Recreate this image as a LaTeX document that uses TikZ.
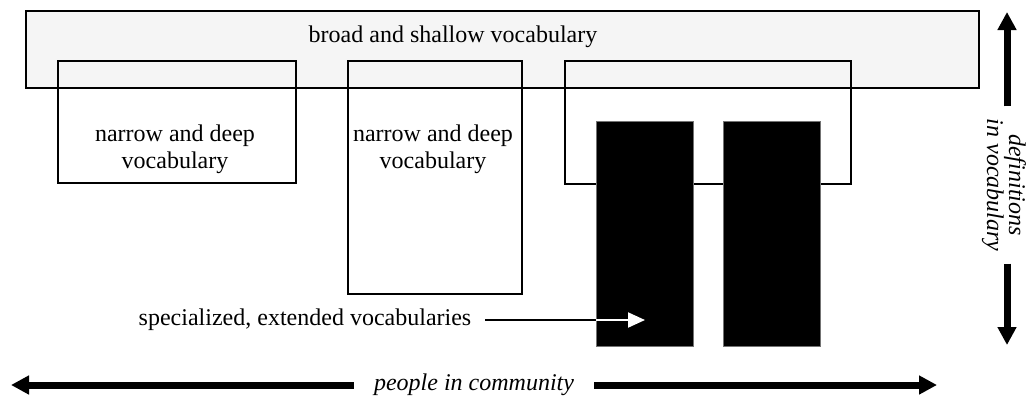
\documentclass[tikz,border=0pt]{standalone}
\usepackage{fontspec}
\setmainfont{Liberation Serif}
\definecolor{shallowgray}{RGB}{245,245,245}
\usetikzlibrary{arrows.meta, positioning}

\begin{document}
\begin{tikzpicture}[
      x=0.5pt, y=-0.5pt,
      box/.style={draw, line width=0.8pt, inner sep=0pt, outer sep=0pt},
      spec/.style={fill=black, draw=black!55, line width=0.4pt, inner sep=0pt,
        minimum width=48.5pt, minimum height=112.5pt},
      txt/.style={font=\fontsize{12}{13.5}\selectfont, align=center},
      axis/.style={line width=3.5pt, -{Triangle[length=9pt, width=9pt]}},
      thin/.style={line width=1pt}
    ]
      \useasboundingbox (0,0) rectangle (1026,402);

      % Broad vocabulary
      \node[box, fill=shallowgray, minimum width=476.5pt, minimum height=38.5pt] (broad) at (502.5,49.5) {};
      \node[txt, anchor=base] (broadtext) at (453,42) {broad and shallow vocabulary};

      % Narrow vocabularies
      \node[box, minimum width=119pt, minimum height=61pt] (deep1) at (177,122) {};
      \node[txt] (deep1text) at (175,149) {narrow and deep\\vocabulary};

      \node[box, minimum width=87pt, minimum height=116.5pt] (deep2) at (435,177.5) {};
      \node[txt] (deep2text) at (433,149) {narrow and deep\\vocabulary};

      \node[box, minimum width=143pt, minimum height=61.5pt] (deep3) at (708,122.5) {};

      % Specialized vocabularies
      \node[spec] (spec1) at (644.5,233.5) {};
      \node[spec] (spec2) at (771.5,233.5) {};
      \node[txt] (spectext) at (305,320) {specialized, extended vocabularies};
      \coordinate (spectip) at (645,320);

      % Axes
      \node[txt, font=\fontsize{12}{13.5}\selectfont\itshape, inner xsep=10pt] (people) at (474,385) {people in community};
      \coordinate (pleft) at (11,385);
      \coordinate (pright) at (937,385);

      \node[txt, font=\fontsize{12}{13.5}\selectfont\itshape, rotate=-90, inner xsep=6pt] (defs) at (1004,185) {definitions\\[-2.5pt]in vocabulary};
      \coordinate (dtop) at (1007,12);
      \coordinate (dbottom) at (1007,345);

      % Arrows
      \draw[thin, shorten <=3.5pt] (spectext.east) -- (spectext.east -| spec1.west) coordinate (entry);
      \draw[thin, white, -{Triangle[length=8.5pt, width=7.5pt]}] (entry) -- (spectip);
      \draw[axis] (people.west) -- (pleft);
      \draw[axis] (people.east) -- (pright);
      \draw[axis] (defs.west -| dtop) -- (dtop);
      \draw[axis] (defs.east -| dbottom) -- (dbottom);
    \end{tikzpicture}
\end{document}
